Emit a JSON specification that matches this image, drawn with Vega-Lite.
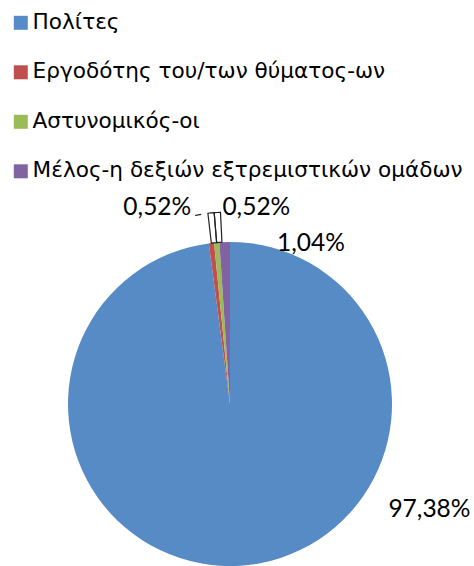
{
  "$schema": "https://vega.github.io/schema/vega-lite/v6.json",
  "width": 324,
  "height": 324,
  "autosize": {"type": "none"},
  "padding": {"left": 68, "top": 242, "right": 82, "bottom": 0},
  "background": "white",
  "data": {"values": [
    {"cat": "Πολίτες", "pct": 0.9738, "rank": 1},
    {"cat": "Εργοδότης του/των θύματος-ων", "pct": 0.0052, "rank": 2},
    {"cat": "Αστυνομικός-οι", "pct": 0.0052, "rank": 3},
    {"cat": "Μέλος-η δεξιών εξτρεμιστικών ομάδων", "pct": 0.0104, "rank": 4}
  ]},
  "encoding": {
    "theta": {"field": "pct", "type": "quantitative", "stack": true},
    "order": {"field": "rank", "type": "quantitative"}
  },
  "layer": [
    {
      "mark": {"type": "arc", "radius": 162},
      "encoding": {
        "color": {
          "field": "cat", "type": "nominal",
          "scale": {
            "domain": ["Πολίτες", "Εργοδότης του/των θύματος-ων", "Αστυνομικός-οι", "Μέλος-η δεξιών εξτρεμιστικών ομάδων"],
            "range": ["#568BC5", "#C0504D", "#9BBB59", "#8064A2"]
          },
          "legend": {
            "orient": "none", "legendX": -58, "legendY": -230, "title": null,
            "symbolType": "square", "symbolSize": 196, "symbolStrokeWidth": 0, "symbolOpacity": 1,
            "labelFont": "DejaVu Sans", "labelFontSize": 21.6, "labelColor": "#000", "labelLimit": 600,
            "labelOffset": 1, "rowPadding": 26.5, "padding": 0
          }
        }
      }
    },
    {
      "mark": {"type": "arc", "radius": 192, "radius2": 162, "thetaOffset": 0.016, "theta2Offset": -0.016, "fillOpacity": 0, "strokeWidth": 1.2},
      "encoding": {
        "stroke": {"condition": {"test": "datum.rank === 2 || datum.rank === 3", "value": "#222"}, "value": "transparent"}
      }
    },
    {
      "mark": {"type": "arc", "radius": 192.3, "radius2": 191.1, "thetaOffset": -0.0518, "theta2Offset": -0.0164},
      "encoding": {
        "fill": {"condition": {"test": "datum.rank === 2", "value": "#222"}, "value": "transparent"}
      }
    },
    {
      "mark": {"type": "text", "radius": 113, "dx": 192, "align": "center", "baseline": "alphabetic", "font": "Lato", "fontSize": 24.5, "color": "#000"},
      "encoding": {"text": {"condition": {"test": "datum.rank === 1", "field": "pct", "format": ".2%"}, "value": ""}}
    },
    {
      "mark": {"type": "text", "radius": 190, "dx": -17, "align": "right", "baseline": "alphabetic", "font": "Lato", "fontSize": 24.5, "color": "#000"},
      "encoding": {"text": {"condition": {"test": "datum.rank === 2", "field": "pct", "format": ".2%"}, "value": ""}}
    },
    {
      "mark": {"type": "text", "radius": 190, "dx": 8, "align": "left", "baseline": "alphabetic", "font": "Lato", "fontSize": 24.5, "color": "#000"},
      "encoding": {"text": {"condition": {"test": "datum.rank === 3", "field": "pct", "format": ".2%"}, "value": ""}}
    },
    {
      "mark": {"type": "text", "radius": 153, "dx": 52, "align": "left", "baseline": "alphabetic", "font": "Lato", "fontSize": 24.5, "color": "#000"},
      "encoding": {"text": {"condition": {"test": "datum.rank === 4", "field": "pct", "format": ".2%"}, "value": ""}}
    }
  ],
  "config": {
    "view": {"stroke": null},
    "locale": {"number": {"decimal": ",", "thousands": ".", "grouping": [3], "currency": ["", " €"]}}
  }
}
